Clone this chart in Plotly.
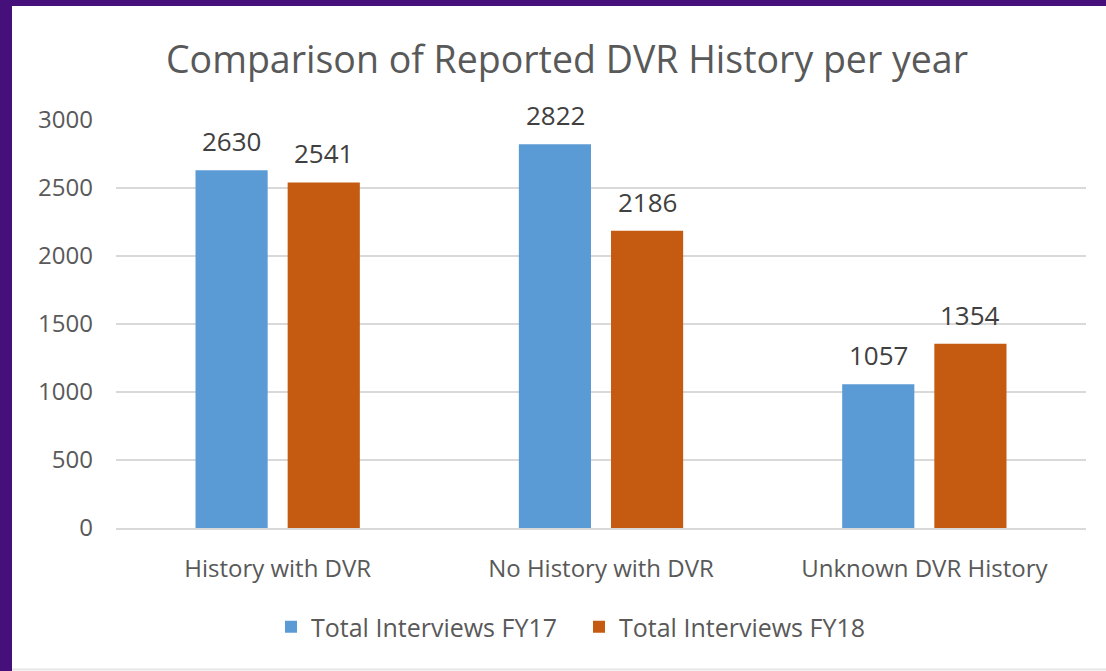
import plotly.graph_objects as go

categories = ["History with DVR", "No History with DVR", "Unknown DVR History"]
series_names = ["Total Interviews FY17", "Total Interviews FY18"]
fy17 = [2630, 2822, 1057]
fy18 = [2541, 2186, 1354]
colors = ["#5B9BD5", "#C55A11"]
yticks = [0, 500, 1000, 1500, 2000, 2500, 3000]

FONT = "Open Sans"
W, H = 1106, 671
L, R, T, B = 116, 20, 120, 143
pw, ph = W - L - R, H - T - B

fig = go.Figure()
for name, vals, col in zip(series_names, [fy17, fy18], colors):
    fig.add_trace(go.Bar(x=categories, y=vals, name=name, marker_color=col,
                         marker_line_width=0))

# data labels
for i, vals in enumerate([fy17, fy18]):
    shift = -46 if i == 0 else 46
    for c, v in zip(categories, vals):
        fig.add_annotation(x=c, y=v, text=str(v), showarrow=False, xshift=shift,
                           yanchor="bottom", yshift=9,
                           font=dict(family=FONT, size=26, color="#404040"))

def px_x(p):
    return (p - L) / pw

def px_y(p):
    return (H - B - p) / ph

fig.add_shape(type="rect", xref="paper", yref="paper",
              x0=px_x(12), x1=px_x(1110), y0=px_y(675), y1=px_y(6),
              fillcolor="white", line_width=0, layer="below")
fig.add_shape(type="line", xref="paper", yref="paper",
              x0=px_x(12), x1=px_x(1110), y0=px_y(669.5), y1=px_y(669.5),
              line=dict(color="#E6E6E6", width=2), layer="below")

fig.update_layout(
    width=W, height=H,
    margin=dict(l=L, r=R, t=T, b=B),
    paper_bgcolor="#45107A",
    plot_bgcolor="white",
    barmode="group", bargap=0.43, bargroupgap=0.217,
    title=dict(text="Comparison of Reported DVR History per year",
               xref="container", x=567 / W, xanchor="center",
               y=1 - 60 / H, yanchor="middle",
               font=dict(family=FONT, size=37.5, color="#595959")),
    showlegend=True,
    legend=dict(orientation="h", x=px_x(579), xanchor="center",
                y=px_y(627), yanchor="middle",
                font=dict(family=FONT, size=25, color="#595959"),
                bgcolor="rgba(0,0,0,0)", itemwidth=30, entrywidth=263),
    font=dict(family=FONT, color="#595959"),
)
fig.update_yaxes(range=[0, 3000], tickvals=yticks, showgrid=True,
                 gridcolor="#D9D9D9", gridwidth=2, zeroline=False,
                 showline=False, ticklabelstandoff=22,
                 tickfont=dict(family=FONT, size=24, color="#595959"))
fig.update_xaxes(showline=True, linecolor="#D9D9D9", linewidth=2,
                 ticklabelstandoff=18,
                 tickfont=dict(family=FONT, size=24, color="#595959"))

fig.write_html("out.html", config={"displayModeBar": False},
               post_script="document.body.style.margin='0';document.body.style.overflow='hidden';")
